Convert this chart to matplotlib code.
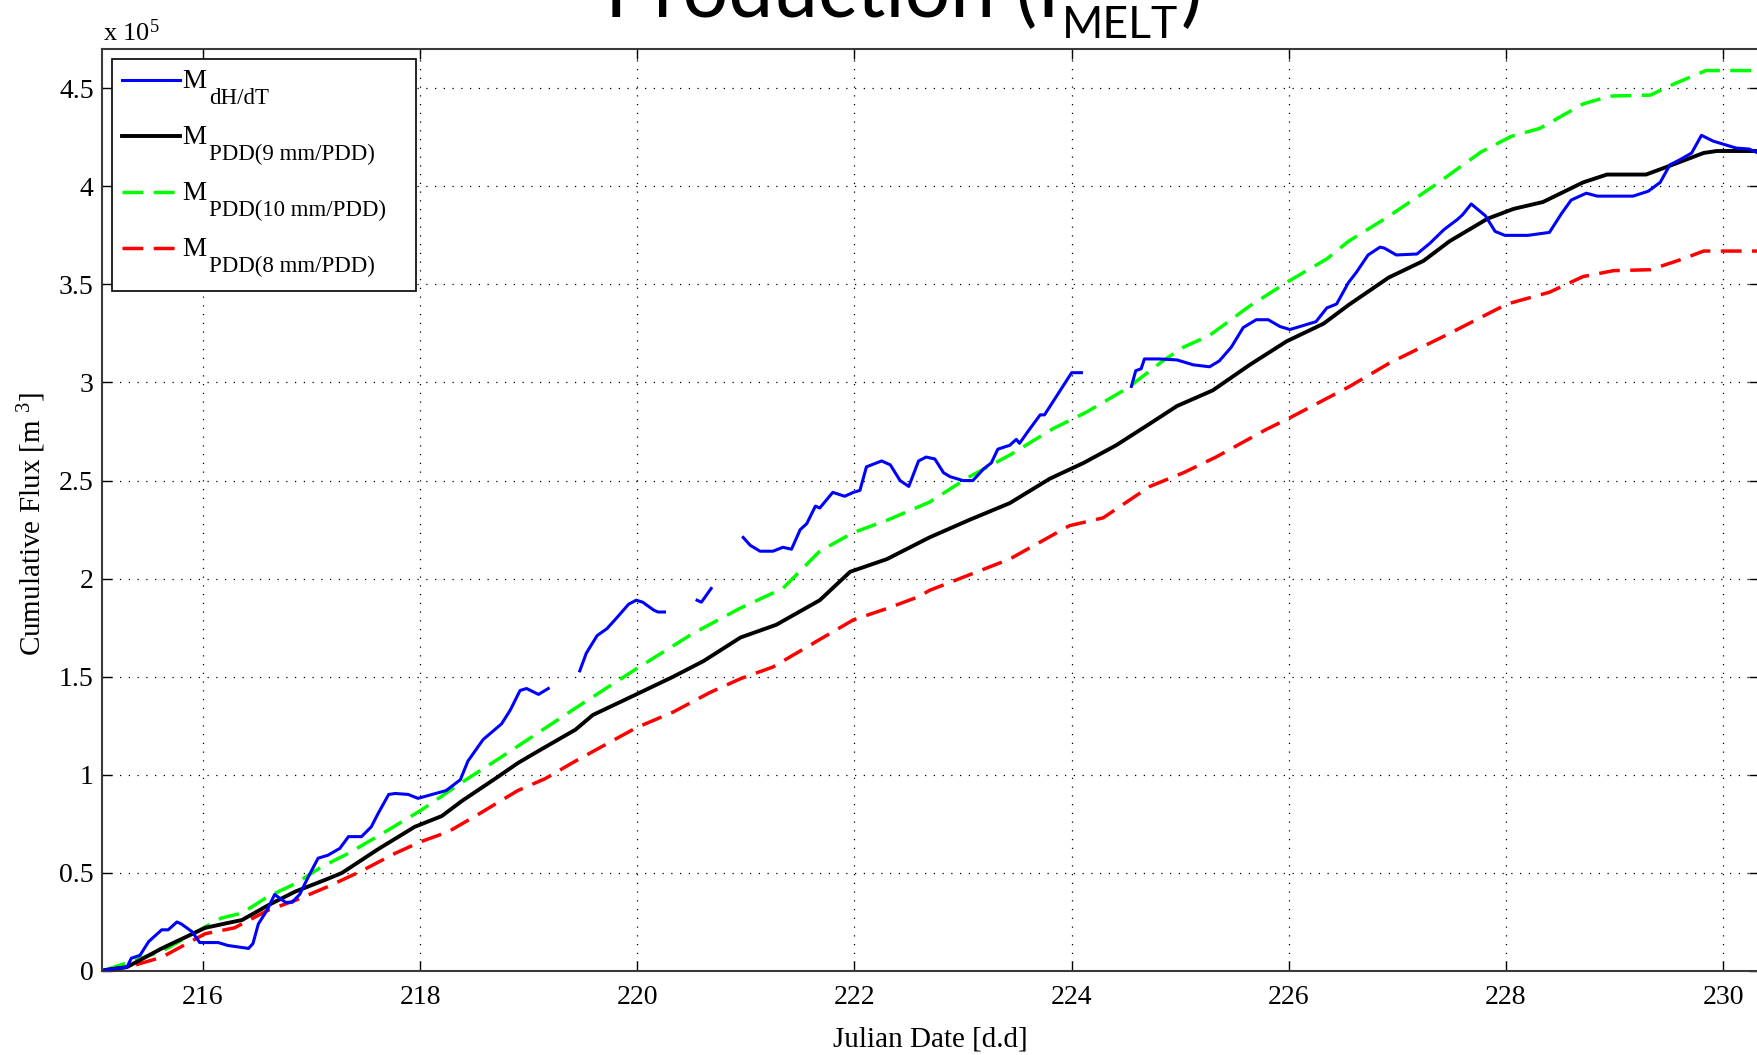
import numpy as np
import matplotlib
matplotlib.use('Agg')
import matplotlib.pyplot as plt
from matplotlib.patches import Rectangle
from matplotlib.transforms import IdentityTransform

nan = np.nan

# cumulative melt volume from the dH/dT record (x 10^5 m^3), gaps where no data
blue_day = [215.10, 215.30, 215.34, 215.42, 215.50, 215.62, 215.68, 215.76, 215.80, 215.90,
            215.97, 216.14, 216.23, 216.42, 216.46, 216.51, 216.59, 216.66, 216.76, 216.82,
            216.89, 216.97, 217.06, 217.15, 217.26, 217.34, 217.46, 217.55, 217.61, 217.71,
            217.77, 217.89, 217.98, 218.11, 218.24, 218.37, 218.44, 218.58, 218.75, 218.83,
            218.92, 218.98, 219.09, 219.18, nan,
            219.47, 219.53, 219.63, 219.72, 219.81, 219.92, 219.99, 220.05, 220.15, 220.19,
            220.25, nan,
            220.55, 220.59, 220.68, nan,
            220.975, 221.04, 221.13, 221.25, 221.34, 221.42, 221.50, 221.56, 221.64, 221.68,
            221.80, 221.91, 221.99, 222.05, 222.11, 222.25, 222.33, 222.42, 222.50, 222.59,
            222.66, 222.74, 222.82, 222.88, 223.00, 223.09, 223.19, 223.26, 223.32, 223.43,
            223.49, 223.52, 223.61, 223.71, 223.75, 223.86, 223.94, 224.00, 224.09, nan,
            224.55, 224.59, 224.64, 224.67, 224.81, 224.97, 225.12, 225.27, 225.36, 225.47,
            225.58, 225.70, 225.81, 225.92, 226.01, 226.13, 226.25, 226.35, 226.44, 226.55,
            226.62, 226.73, 226.84, 226.88, 226.99, 227.18, 227.30, 227.43, 227.55, 227.60,
            227.68, 227.81, 227.90, 227.99, 228.20, 228.40, 228.51, 228.60, 228.74, 228.84,
            229.02, 229.17, 229.31, 229.42, 229.51, 229.60, 229.71, 229.80, 229.91, 230.03,
            230.12, 230.24, 230.32]
blue_flux = [0.005, 0.02, 0.065, 0.08, 0.15, 0.21, 0.21, 0.25, 0.24, 0.20,
             0.145, 0.145, 0.13, 0.115, 0.14, 0.24, 0.31, 0.39, 0.35, 0.35,
             0.39, 0.48, 0.575, 0.59, 0.625, 0.685, 0.685, 0.735, 0.80, 0.90,
             0.905, 0.90, 0.88, 0.90, 0.92, 0.975, 1.07, 1.18, 1.26, 1.33,
             1.43, 1.44, 1.41, 1.44, nan,
             1.53, 1.62, 1.71, 1.745, 1.80, 1.87, 1.89, 1.88, 1.84, 1.83,
             1.83, nan,
             1.89, 1.88, 1.95, nan,
             2.21, 2.17, 2.14, 2.14, 2.16, 2.15, 2.25, 2.28, 2.37, 2.36,
             2.44, 2.42, 2.44, 2.45, 2.57, 2.60, 2.58, 2.50, 2.47, 2.60,
             2.62, 2.61, 2.54, 2.52, 2.50, 2.50, 2.56, 2.59, 2.66, 2.68,
             2.71, 2.69, 2.76, 2.835, 2.835, 2.93, 3.00, 3.05, 3.05, nan,
             2.98, 3.06, 3.07, 3.12, 3.12, 3.115, 3.09, 3.08, 3.11, 3.18,
             3.28, 3.32, 3.32, 3.285, 3.27, 3.29, 3.31, 3.38, 3.40, 3.51,
             3.56, 3.65, 3.69, 3.685, 3.65, 3.655, 3.71, 3.78, 3.83, 3.855,
             3.91, 3.85, 3.77, 3.75, 3.75, 3.765, 3.86, 3.93, 3.965, 3.95,
             3.95, 3.95, 3.975, 4.02, 4.11, 4.135, 4.17, 4.26, 4.23, 4.21,
             4.195, 4.19, 4.17]

# positive degree day model, 9 mm/PDD
pdd9_day = [215.10, 215.30, 215.62, 216.02, 216.23, 216.36, 216.60, 216.85, 217.15, 217.28,
            217.61, 217.95, 218.20, 218.38, 218.69, 218.90, 219.10, 219.43, 219.59, 219.99,
            220.33, 220.61, 220.95, 221.28, 221.68, 221.96, 222.30, 222.69, 223.06, 223.43,
            223.80, 224.11, 224.41, 224.72, 224.97, 225.30, 225.64, 225.98, 226.32, 226.55,
            226.92, 227.24, 227.48, 227.83, 228.07, 228.34, 228.71, 228.93, 229.29, 229.51,
            229.82, 229.94, 230.32]
pdd9_flux = [0.005, 0.02, 0.115, 0.22, 0.245, 0.26, 0.335, 0.405, 0.47, 0.50,
             0.62, 0.735, 0.79, 0.865, 0.98, 1.06, 1.125, 1.23, 1.305, 1.41,
             1.50, 1.58, 1.70, 1.765, 1.89, 2.035, 2.10, 2.21, 2.30, 2.385,
             2.51, 2.59, 2.68, 2.79, 2.88, 2.96, 3.09, 3.21, 3.30, 3.395,
             3.535, 3.62, 3.72, 3.835, 3.885, 3.92, 4.02, 4.06, 4.06, 4.105,
             4.17, 4.18, 4.18]

# 10 mm/PDD
pdd10_day = [215.10, 215.62, 216.02, 216.17, 216.36, 216.60, 216.85, 217.09, 217.34, 217.65,
             218.01, 218.38, 218.69, 219.02, 219.43, 219.99, 220.51, 220.95, 221.34, 221.68,
             221.99, 222.31, 222.69, 223.06, 223.43, 223.83, 224.14, 224.51, 224.84, 225.03,
             225.27, 225.64, 226.01, 226.35, 226.55, 226.90, 227.33, 227.77, 228.05, 228.31,
             228.71, 228.96, 229.33, 229.54, 229.84, 229.99, 230.32]
pdd10_flux = [0.005, 0.10, 0.225, 0.27, 0.295, 0.38, 0.445, 0.53, 0.60, 0.70,
              0.82, 0.96, 1.07, 1.19, 1.34, 1.54, 1.72, 1.85, 1.95, 2.14,
              2.235, 2.30, 2.39, 2.52, 2.63, 2.765, 2.85, 2.97, 3.11, 3.18,
              3.24, 3.39, 3.52, 3.63, 3.72, 3.84, 4.00, 4.175, 4.255, 4.295,
              4.42, 4.46, 4.465, 4.52, 4.59, 4.59, 4.59]

# 8 mm/PDD
pdd8_day = [215.10, 215.31, 215.62, 216.02, 216.29, 216.60, 216.85, 217.15, 217.46, 217.77,
            218.01, 218.26, 218.54, 218.90, 219.15, 219.43, 219.99, 220.33, 220.67, 220.95,
            221.25, 221.68, 221.99, 222.31, 222.60, 222.69, 223.06, 223.43, 223.98, 224.29,
            224.72, 225.03, 225.33, 225.79, 226.01, 226.56, 226.93, 227.48, 228.01, 228.40,
            228.71, 228.99, 229.33, 229.63, 229.82, 230.32]
pdd8_flux = [0.005, 0.02, 0.07, 0.19, 0.22, 0.31, 0.36, 0.43, 0.51, 0.60,
             0.66, 0.71, 0.80, 0.92, 0.98, 1.07, 1.24, 1.32, 1.42, 1.49,
             1.55, 1.69, 1.79, 1.85, 1.91, 1.94, 2.02, 2.10, 2.27, 2.31,
             2.47, 2.54, 2.62, 2.76, 2.82, 2.98, 3.10, 3.25, 3.40, 3.46,
             3.54, 3.57, 3.575, 3.63, 3.67, 3.67]

xticks = [216, 218, 220, 222, 224, 226, 228, 230]
yticks = [0, 0.5, 1, 1.5, 2, 2.5, 3, 3.5, 4, 4.5]
ytick_labels = ['0', '0.5', '1', '1.5', '2', '2.5', '3', '3.5', '4', '4.5']
legend_subs = ['dH/dT', 'PDD(9 mm/PDD)', 'PDD(10 mm/PDD)', 'PDD(8 mm/PDD)']

plt.rcParams['font.family'] = ['Liberation Serif', 'DejaVu Serif']
plt.rcParams['mathtext.fontset'] = 'custom'
plt.rcParams['mathtext.rm'] = 'Liberation Serif'
plt.rcParams['mathtext.it'] = 'Liberation Serif:italic'

W, H = 1758, 1055
fig = plt.figure(figsize=(W / 100, H / 100), dpi=100)
ax = fig.add_axes([102 / W, 84 / H, 1657 / W, 922 / H])

ax.plot(blue_day, blue_flux, color='#0000ff', lw=2.2, zorder=4)
ax.plot(pdd9_day, pdd9_flux, color='k', lw=2.8, zorder=3.5)
ax.plot(pdd10_day, pdd10_flux, color='#00ff00', lw=2.5, dashes=(6, 3), zorder=3)
ax.plot(pdd8_day, pdd8_flux, color='#ff0000', lw=2.5, dashes=(6, 3), zorder=3)

ax.set_xlim(215.07, 230.33)
ax.set_ylim(0, 4.70)
ax.set_xticks(xticks)
ax.set_yticks(yticks)
ax.set_yticklabels(ytick_labels)
ax.tick_params(direction='in', length=7, width=1.0, top=True, right=True, labelsize=20)
ax.tick_params(axis='x', pad=10)
ax.tick_params(axis='y', pad=6)
for sp in ax.spines.values():
    sp.set_color('#3a3a3a')
    sp.set_linewidth(1.5)
ax.grid(True, linestyle=(0, (1, 6)), color='k', lw=0.9)

ax.set_xlabel('Julian Date [d.d]', fontsize=21, va='center')
ax.xaxis.set_label_coords(0.5, -0.0748)
ax.set_ylabel('Cumulative Flux [m $^{3}$]', fontsize=21, va='center')
ax.yaxis.set_label_coords(-0.0422, 0.485)

# legend: "M" with a large, low subscript drawn next to it, box drawn around both
leg = ax.legend(ax.get_lines(), ['M'] * 4, loc='upper left',
                bbox_to_anchor=(20 / 1657, 1 - 20 / 922), borderaxespad=0, borderpad=0,
                fontsize=19.5, handlelength=2.14, handletextpad=0.1, labelspacing=1.14,
                handleheight=0.3, frameon=False)
leg.set_zorder(6)

# exponent shown above the y axis
fig.text(103 / W, (H - 41) / H, r'x 10$^{5}$', fontsize=19, va='baseline', ha='left')

fig.canvas.draw()
renderer = fig.canvas.get_renderer()

sub_boxes = []
for t, sub in zip(leg.get_texts(), legend_subs):
    bb = t.get_window_extent(renderer)
    bx, by = t.get_transform().transform(t.get_position())
    st = fig.text((bb.x1 + 2) / W, (by - 16) / H, sub, fontsize=16.5,
                  ha='left', va='baseline', zorder=7)
    sub_boxes.append(st.get_window_extent(renderer))

lb = leg.get_window_extent(renderer)
x0 = lb.x0 - 10
x1 = max(b.x1 for b in sub_boxes) + 30
y1 = lb.y1 + 10
y0 = min(b.y0 for b in sub_boxes) - 14
ax.add_patch(Rectangle((x0, y0), x1 - x0, y1 - y0, transform=IdentityTransform(),
                       facecolor='white', edgecolor='k', lw=1.2, zorder=5.5))

# heading, partly cut at the top edge, with subscript
x = 605
parts = [('Production (I', 58, 17), ('MELT', 32, 38), (')', 58, 17)]
for s, size, base in parts:
    t = fig.text(x / W, (H - base) / H, s, fontsize=size, family='Lato',
                 ha='left', va='baseline')
    x = t.get_window_extent(renderer).x1 + 2

fig.savefig('out.png', dpi=100)
